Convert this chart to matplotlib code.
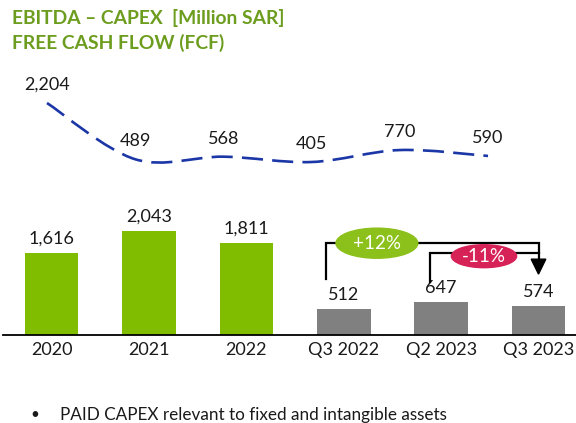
import numpy as np
import matplotlib.pyplot as plt
from matplotlib.path import Path
from matplotlib.patches import PathPatch, Ellipse, Polygon

plt.rcParams['font.family'] = ['Lato', 'DejaVu Sans']

# ------------------------------- DATA -------------------------------
categories = ['2020', '2021', '2022', 'Q3 2022', 'Q2 2023', 'Q3 2023']
capex = [1616, 2043, 1811, 512, 647, 574]
fcf = [2204, 489, 568, 405, 770, 590]
bar_colors = ['#80bc00', '#80bc00', '#80bc00', '#808080', '#808080', '#808080']

W, H = 576, 423
fig = plt.figure(figsize=(W / 100, H / 100), dpi=100)

# ------------------------------- BARS -------------------------------
ax = fig.add_axes([3 / W, 1 - 335 / H, 573 / W, 153 / H])
x = np.arange(len(categories))
ax.bar(x, capex, width=0.55, color=bar_colors)
ax.set_xlim(-0.5, 5.385)
ax.set_ylim(0, 3000)
for side in ['top', 'left', 'right']:
    ax.spines[side].set_visible(False)
ax.spines['bottom'].set_linewidth(1.3)
ax.spines['bottom'].set_color('black')
ax.set_yticks([])
ax.set_xticks(x)
ax.set_xticklabels(categories, fontsize=13, color='#1a1a1a')
ax.tick_params(axis='x', length=0, pad=5)
for xi, v in zip(x, capex):
    ax.annotate(f'{v:,}', (xi, v), xytext=(0, 10), textcoords='offset points',
                ha='center', va='center', fontsize=13, color='#1a1a1a')

# growth brackets (bar axes coordinates)
ax.plot([2.82, 2.82, 5.0, 5.0], [1096, 1800, 1800, 1480], color='black', lw=1.6,
        clip_on=False, solid_joinstyle='miter', zorder=3)
ax.plot([3.885, 3.885, 5.0], [1037, 1605, 1605], color='black', lw=1.6,
        clip_on=False, solid_joinstyle='miter', zorder=3)
ax.add_patch(Polygon([[4.925, 1487], [5.075, 1487], [5.0, 1194]], closed=True,
                     color='black', clip_on=False, zorder=3))
ax.add_patch(Ellipse((3.34, 1800), 0.84, 590, color='#8cc01a', clip_on=False, zorder=4))
ax.text(3.34, 1800, '+12%', ha='center', va='center', fontsize=13.5, color='white', zorder=5)
ax.add_patch(Ellipse((4.44, 1545), 0.67, 450, color='#d72258', clip_on=False, zorder=4))
ax.text(4.44, 1545, '-11%', ha='center', va='center', fontsize=13.5, color='white', zorder=5)

# ------------------------------- FCF LINE -------------------------------
lx = fig.add_axes([47 / W, 1 - 175.3 / H, 441 / W, 82 / H])
lx.set_xlim(0, 5)
lx.set_ylim(0, 2500)
lx.axis('off')

px = np.arange(len(fcf), dtype=float)
py = np.array(fcf, dtype=float)
# smooth curve through the points (Catmull-Rom as cubic Bezier)
verts = [(px[0], py[0])]
codes = [Path.MOVETO]
for i in range(len(px) - 1):
    p0 = (px[max(i - 1, 0)], py[max(i - 1, 0)])
    p1 = (px[i], py[i])
    p2 = (px[i + 1], py[i + 1])
    p3 = (px[min(i + 2, len(px) - 1)], py[min(i + 2, len(px) - 1)])
    c1 = (p1[0] + (p2[0] - p0[0]) / 6, p1[1] + (p2[1] - p0[1]) / 6)
    c2 = (p2[0] - (p3[0] - p1[0]) / 6, p2[1] - (p3[1] - p1[1]) / 6)
    verts += [c1, c2, p2]
    codes += [Path.CURVE4] * 3
lx.add_patch(PathPatch(Path(verts, codes), facecolor='none', edgecolor='#1b36a6',
                       lw=1.9, linestyle=(0, (8, 3.5)), clip_on=False))
for xi, v in zip(px, fcf):
    lx.annotate(f'{v:,}', (xi, v), xytext=(0, 13), textcoords='offset points',
                ha='center', va='center', fontsize=13, color='#1a1a1a')

# ------------------------------- TEXT -------------------------------
fig.text(12 / W, 1 - 18 / H, 'EBITDA – CAPEX  [Million SAR]', fontsize=13.9,
         fontweight='bold', color='#6c9d1e', va='center', ha='left')
fig.text(12 / W, 1 - 43 / H, 'FREE CASH FLOW (FCF)', fontsize=13.9,
         fontweight='bold', color='#6c9d1e', va='center', ha='left')
fig.text(30 / W, 1 - 415 / H, '•', fontsize=11, color='#1a1a1a', va='center', ha='left')
fig.text(60 / W, 1 - 415 / H, 'PAID CAPEX relevant to fixed and intangible assets',
         fontsize=12.3, color='#1a1a1a', va='center', ha='left')

plt.savefig('out.png', dpi=100)
